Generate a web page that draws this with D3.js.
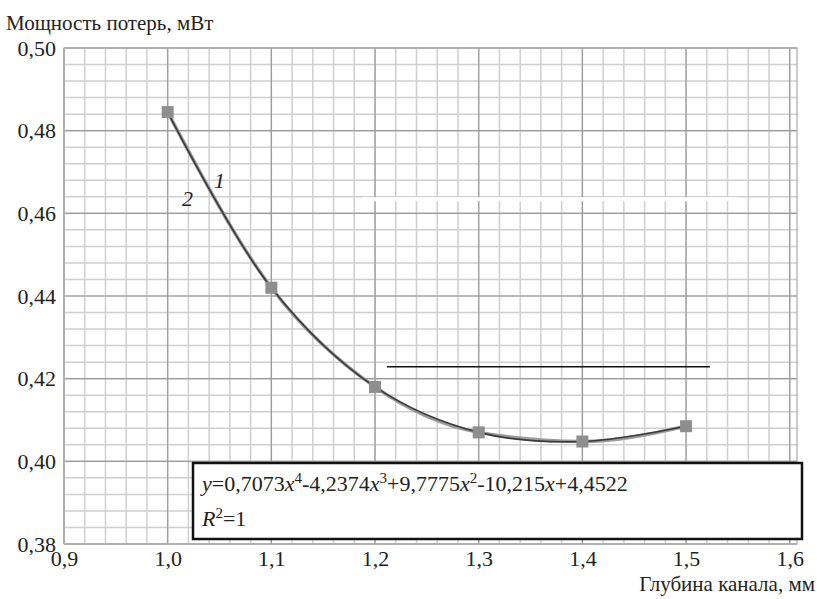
<!DOCTYPE html>
<html>
<head>
<meta charset="utf-8">
<script src="https://cdn.jsdelivr.net/npm/d3@7"></script>
<style>
  body { margin: 0; background: #fff; }
</style>
</head>
<body>
<div id="chart"></div>
<script>
// channel depth, mm
const depth = [1.0, 1.1, 1.2, 1.3, 1.4, 1.5];
// loss power, mW
const power = [0.4845, 0.442, 0.418, 0.407, 0.4048, 0.4085];
const xTicks = [0.9, 1.0, 1.1, 1.2, 1.3, 1.4, 1.5, 1.6];
const yTicks = [0.38, 0.40, 0.42, 0.44, 0.46, 0.48, 0.50];
const equation = "y=0,7073x4-4,2374x3+9,7775x2-10,215x+4,4522";

const serif = "'Liberation Serif', 'DejaVu Serif', 'Times New Roman', Times, serif";
const width = 817, height = 599;
const svg = d3.select("#chart").append("svg")
  .attr("width", width)
  .attr("height", height)
  .style("font-family", serif);

const x = d3.scaleLinear().domain([0.9, 1.607]).range([64, 797]);
const y = d3.scaleLinear().domain([0.38, 0.50]).range([544, 48]);

const fmt = d => d3.format(".1f")(d).replace(".", ",");
const fmtY = d => d3.format(".2f")(d).replace(".", ",");

// minor grid
const xMinor = d3.range(0.9, 1.607, 0.02);
const yMinor = d3.range(0.38, 0.5001, 0.004);
const grid = svg.append("g");
grid.selectAll(".vx").data(xMinor).join("line")
  .attr("x1", d => x(d)).attr("x2", d => x(d))
  .attr("y1", y(0.38)).attr("y2", y(0.50))
  .attr("stroke", "#cfcfcf").attr("stroke-width", 1.5);
grid.selectAll(".hy").data(yMinor).join("line")
  .attr("x1", x(0.9)).attr("x2", x(1.607))
  .attr("y1", d => y(d)).attr("y2", d => y(d))
  .attr("stroke", "#cfcfcf").attr("stroke-width", 1.5);
// major grid
grid.selectAll(".mx").data(xTicks).join("line")
  .attr("x1", d => x(d)).attr("x2", d => x(d))
  .attr("y1", y(0.38)).attr("y2", y(0.50))
  .attr("stroke", "#9a9a9a").attr("stroke-width", 1.2);
grid.selectAll(".my").data(yTicks).join("line")
  .attr("x1", x(0.9)).attr("x2", x(1.607))
  .attr("y1", d => y(d)).attr("y2", d => y(d))
  .attr("stroke", "#9a9a9a").attr("stroke-width", 1.2);
grid.append("rect")
  .attr("x", x(0.9)).attr("y", y(0.50))
  .attr("width", x(1.607) - x(0.9)).attr("height", y(0.38) - y(0.50))
  .attr("fill", "none").attr("stroke", "#aaa").attr("stroke-width", 1.2);

// scan artefact: white seam and a stray black rule
svg.append("rect")
  .attr("x", x(1.187)).attr("y", y(0.4639))
  .attr("width", x(1.5525) - x(1.187)).attr("height", 4)
  .attr("fill", "#fff");
svg.append("line")
  .attr("x1", x(1.2115)).attr("x2", x(1.523))
  .attr("y1", y(0.4229)).attr("y2", y(0.4229))
  .attr("stroke", "#111").attr("stroke-width", 1.5);

// axes labels
const xAxis = svg.append("g")
  .attr("transform", `translate(0,${y(0.38)})`)
  .call(d3.axisBottom(x).tickValues(xTicks).tickFormat(fmt).tickSize(0).tickPadding(6));
xAxis.attr("font-family", null).attr("font-size", null);
xAxis.select(".domain").remove();
xAxis.selectAll("text").attr("fill", "#222").style("font-size", "22px");

const yAxis = svg.append("g")
  .attr("transform", `translate(${x(0.9)},0)`)
  .call(d3.axisLeft(y).tickValues(yTicks).tickFormat(fmtY).tickSize(0).tickPadding(8));
yAxis.attr("font-family", null).attr("font-size", null);
yAxis.select(".domain").remove();
yAxis.selectAll("text").attr("fill", "#222").style("font-size", "22px");

svg.append("text").attr("x", 6).attr("y", 30)
  .style("font-size", "21px").attr("fill", "#222")
  .text("Мощность потерь, мВт");
svg.append("text").attr("x", 815).attr("y", 591)
  .attr("text-anchor", "end").style("font-size", "21px").attr("fill", "#222")
  .text("Глубина канала, мм");

// series 2 (data line) and 1 (trend line)
const pts = depth.map((d, i) => [d, power[i]]);
svg.append("path").datum(pts)
  .attr("fill", "none").attr("stroke", "#9a9a9a").attr("stroke-width", 3.5)
  .attr("d", d3.line().x(d => x(d[0])).y(d => y(d[1])).curve(d3.curveMonotoneX));
svg.append("path").datum(pts)
  .attr("fill", "none").attr("stroke", "#3a3a3a").attr("stroke-width", 1.6)
  .attr("d", d3.line().x(d => x(d[0])).y(d => y(d[1])).curve(d3.curveCatmullRom));

svg.selectAll(".pt").data(pts).join("rect")
  .attr("x", d => x(d[0]) - 6).attr("y", d => y(d[1]) - 6)
  .attr("width", 12).attr("height", 12)
  .attr("fill", "#8e8e8e");

svg.append("text").attr("x", 214).attr("y", 188)
  .style("font-size", "22px").style("font-style", "italic").attr("fill", "#222").text("1");
svg.append("text").attr("x", 182).attr("y", 206)
  .style("font-size", "22px").style("font-style", "italic").attr("fill", "#222").text("2");

// equation box
svg.append("rect")
  .attr("x", 193).attr("y", 463).attr("width", 609).attr("height", 76)
  .attr("fill", "#fff").attr("stroke", "#111").attr("stroke-width", 2.5);
const eq = svg.append("text").attr("x", 202).attr("y", 491)
  .style("font-size", "22px").attr("fill", "#222");
// split into coefficient / italic x / superscript pieces
const parts = equation.match(/x\d?|y|[^xy]+/g);
parts.forEach(p => {
  if (p === "y") eq.append("tspan").style("font-style", "italic").text("y");
  else if (p[0] === "x") {
    eq.append("tspan").style("font-style", "italic").text("x");
    if (p.length > 1) {
      eq.append("tspan").style("font-size", "15px").attr("baseline-shift", "super").text(p[1]);
    }
  } else eq.append("tspan").text(p);
});
const r2 = svg.append("text").attr("x", 202).attr("y", 526)
  .style("font-size", "22px").attr("fill", "#222");
r2.append("tspan").style("font-style", "italic").text("R");
r2.append("tspan").style("font-size", "15px").attr("baseline-shift", "super").text("2");
r2.append("tspan").text("=1");
</script>
</body>
</html>
